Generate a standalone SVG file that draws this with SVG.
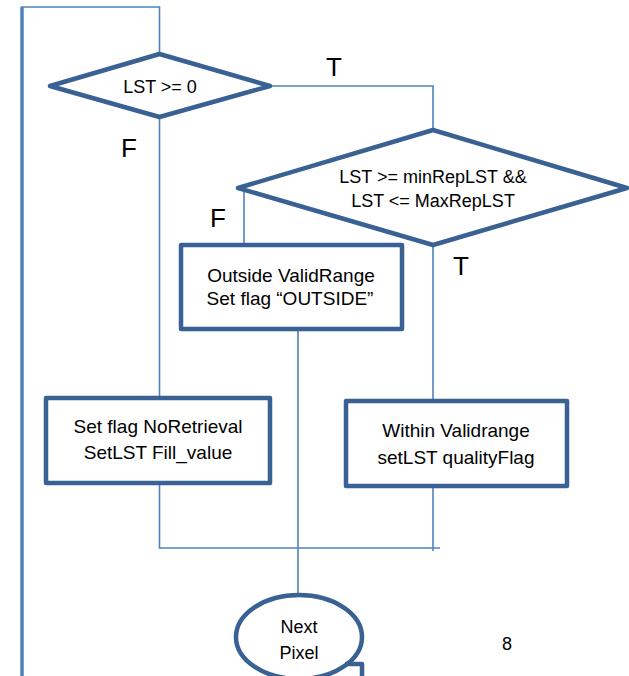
<svg xmlns="http://www.w3.org/2000/svg" width="629" height="676" viewBox="0 0 629 676">
<style>
.bg{fill:#ffffff}
.conn{fill:none;stroke:#4F81BD;stroke-width:1.6}
.thick{fill:none;stroke:#4F81BD;stroke-width:3.5}
.shape{fill:#ffffff;stroke:#3A6193;stroke-width:4.5;stroke-linejoin:round}
.t{font-family:"Liberation Sans",Arial,sans-serif;font-size:18px;fill:#000000;text-anchor:middle}
.b{font-size:19px}
.lbl{font-family:"Liberation Sans",Arial,sans-serif;font-size:26px;fill:#000000;text-anchor:middle}
</style>
<rect class="bg" x="0" y="0" width="629" height="676"/>
<g id="connectors">
  <polyline class="thick" points="22,676 22,7"/>
  <polyline class="conn" points="21,7 159.5,7 159.5,54"/>
  <polyline class="conn" points="270,86 433,86 433,130"/>
  <polyline class="conn" points="159.5,117 159.5,397"/>
  <polyline class="conn" points="244,188 244,245"/>
  <polyline class="conn" points="433,245 433,401"/>
  <polyline class="conn" points="298,329 298,595"/>
  <polyline class="conn" points="159.5,483 159.5,548 440,548"/>
  <polyline class="conn" points="433,486 433,551"/>
</g>
<g id="decision1">
  <polygon class="shape" points="50,86 159.5,54 270,86 159.5,117"/>
  <text class="t" x="160" y="93">LST &gt;= 0</text>
</g>
<g id="decision2">
  <polygon class="shape" points="238,188 433,130 627,188 433,245"/>
  <text class="t" x="433" y="183">LST &gt;= minRepLST &amp;&amp;</text>
  <text class="t" x="433" y="207">LST &lt;= MaxRepLST</text>
</g>
<g id="outside">
  <rect class="shape" x="181" y="245" width="221" height="84"/>
  <text class="t b" x="291" y="282">Outside ValidRange</text>
  <text class="t b" x="290" y="305">Set flag “OUTSIDE”</text>
</g>
<g id="noretrieval">
  <rect class="shape" x="46" y="398" width="224" height="85"/>
  <text class="t b" x="158" y="433">Set flag NoRetrieval</text>
  <text class="t b" x="158" y="459">SetLST Fill_value</text>
</g>
<g id="within">
  <rect class="shape" x="346" y="401" width="221" height="85"/>
  <text class="t b" x="456" y="437">Within Validrange</text>
  <text class="t b" x="456" y="464">setLST qualityFlag</text>
</g>
<g id="nextpixel">
  <ellipse class="shape" cx="299" cy="637" rx="63" ry="42"/>
  <polyline class="shape" style="fill:none" points="345,664 362,664 362,680"/>
  <text class="t" x="299" y="633">Next</text>
  <text class="t" x="299" y="659">Pixel</text>
</g>
<g id="labels">
  <text class="lbl" x="334" y="76">T</text>
  <text class="lbl" x="129" y="157">F</text>
  <text class="lbl" x="218" y="227">F</text>
  <text class="lbl" x="461" y="275">T</text>
  <text class="t" x="507" y="650">8</text>
</g>
</svg>
